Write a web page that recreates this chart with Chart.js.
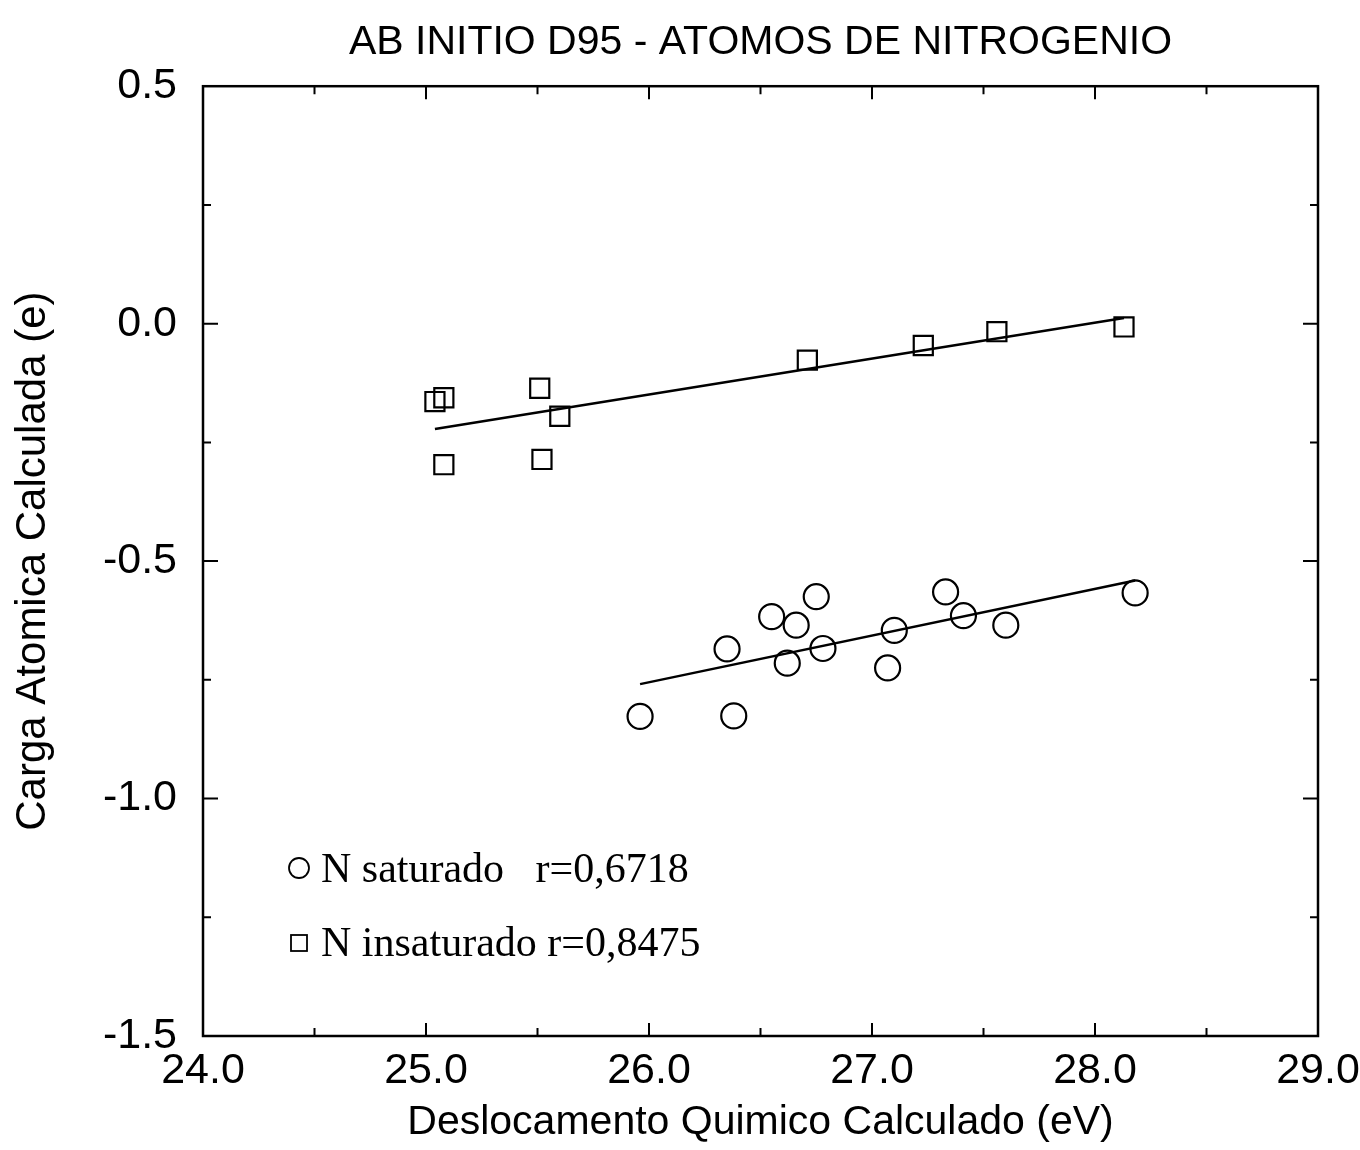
<!DOCTYPE html>
<html>
<head>
<meta charset="utf-8">
<script src="https://cdn.jsdelivr.net/npm/chart.js@4.4.1/dist/chart.umd.min.js"></script>
<style>
  html, body { margin: 0; padding: 0; background: #fff; }
  #wrap { width: 1360px; height: 1150px; }
</style>
</head>
<body>
<div id="wrap"><canvas id="chart"></canvas></div>
<script>
const chartTitle = 'AB INITIO D95 - ATOMOS DE NITROGENIO';
const xTitle = 'Deslocamento Quimico Calculado (eV)';
const yTitle = 'Carga Atomica Calculada (e)';

// N saturado (circles)
const satX = [25.96, 26.38, 26.35, 26.55, 26.62, 26.66, 26.75, 26.78, 27.07, 27.10, 27.33, 27.41, 27.60, 28.18];
const satY = [-0.827, -0.826, -0.685, -0.617, -0.715, -0.635, -0.575, -0.684, -0.725, -0.646, -0.565, -0.615, -0.635, -0.567];
const satFitX = [25.96, 28.18];
const satFitY = [-0.759, -0.541];

// N insaturado (squares)
const insX = [25.04, 25.08, 25.08, 25.51, 25.52, 25.60, 26.71, 27.23, 27.56, 28.13];
const insY = [-0.164, -0.156, -0.297, -0.136, -0.286, -0.195, -0.077, -0.046, -0.017, -0.007];
const insFitX = [25.04, 28.13];
const insFitY = [-0.222, 0.012];

const legendLabels = ['N saturado   r=0,6718', 'N insaturado r=0,8475'];

const black = '#000';
const sans = "'Liberation Sans', Arial, sans-serif";
const serif = "'Liberation Serif', 'Times New Roman', serif";

function pts(xs, ys) {
  return xs.map((x, i) => ({ x: x, y: ys[i] }));
}

const frameAndTicks = {
  id: 'frameAndTicks',
  afterDatasetsDraw(chart) {
    const { ctx, chartArea: { left, top, right, bottom }, scales: { x, y } } = chart;
    ctx.save();
    ctx.strokeStyle = black;
    ctx.lineWidth = 2.5;
    ctx.strokeRect(left, top, right - left, bottom - top);

    ctx.lineWidth = 2;
    ctx.beginPath();
    for (let v = 24.5; v < 29; v += 0.5) {
      const px = x.getPixelForValue(v);
      const len = Number.isInteger(v) ? 13 : 8;
      ctx.moveTo(px, bottom); ctx.lineTo(px, bottom - len);
      ctx.moveTo(px, top); ctx.lineTo(px, top + len);
    }
    for (let v = -1.25; v < 0.5; v += 0.25) {
      const py = y.getPixelForValue(v);
      const len = Math.abs(v * 2 - Math.round(v * 2)) < 1e-6 ? 15 : 8;
      ctx.moveTo(left, py); ctx.lineTo(left + len, py);
      ctx.moveTo(right, py); ctx.lineTo(right - len, py);
    }
    ctx.stroke();

    // legend inside plot
    const lx = 299;
    const rows = [871, 945];
    ctx.lineWidth = 1.8;
    ctx.beginPath();
    ctx.arc(lx, rows[0] - 3, 10, 0, Math.PI * 2);
    ctx.stroke();
    ctx.strokeRect(lx - 8, rows[1] - 10, 16, 16);
    ctx.fillStyle = black;
    ctx.font = '42px ' + serif;
    ctx.textBaseline = 'middle';
    ctx.textAlign = 'left';
    ctx.fillText(legendLabels[0], lx + 22, rows[0]);
    ctx.fillText(legendLabels[1], lx + 22, rows[1]);
    ctx.restore();
  }
};

new Chart(document.getElementById('chart'), {
  type: 'scatter',
  plugins: [frameAndTicks],
  data: {
    datasets: [
      {
        label: 'N saturado',
        data: pts(satX, satY),
        pointStyle: 'circle',
        pointRadius: 12.5,
        borderColor: black,
        backgroundColor: 'rgba(0,0,0,0)',
        borderWidth: 2.2,
      },
      {
        label: 'N insaturado',
        data: pts(insX, insY),
        pointStyle: 'rect',
        pointRadius: 13.5,
        borderColor: black,
        backgroundColor: 'rgba(0,0,0,0)',
        borderWidth: 2.2,
      },
      {
        type: 'line',
        label: 'fit saturado',
        data: pts(satFitX, satFitY),
        borderColor: black,
        borderWidth: 2.5,
        pointRadius: 0,
        fill: false,
      },
      {
        type: 'line',
        label: 'fit insaturado',
        data: pts(insFitX, insFitY),
        borderColor: black,
        borderWidth: 2.5,
        pointRadius: 0,
        fill: false,
      },
    ]
  },
  options: {
    responsive: true,
    maintainAspectRatio: false,
    animation: false,
    layout: {
      padding: { left: 8, right: 42, top: 18, bottom: 3 },
    },
    scales: {
      x: {
        type: 'linear',
        min: 24,
        max: 29,
        grid: { display: false },
        border: { display: false },
        ticks: {
          stepSize: 1,
          padding: 1,
          color: black,
          font: { family: sans, size: 43 },
          callback: (v) => v.toFixed(1),
        },
        title: {
          display: true,
          text: xTitle,
          color: black,
          font: { family: sans, size: 41 },
          padding: 0,
        },
        afterFit: (axis) => {
          axis.height = 111;
          axis.paddingLeft = 0;
          axis.paddingRight = 0;
        }
      },
      y: {
        type: 'linear',
        min: -1.5,
        max: 0.5,
        grid: { display: false },
        border: { display: false },
        ticks: {
          stepSize: 0.5,
          padding: 18,
          color: black,
          font: { family: sans, size: 43 },
          callback: (v) => v.toFixed(1),
        },
        title: {
          display: true,
          text: yTitle,
          color: black,
          font: { family: sans, size: 42 },
          padding: 0,
        },
        afterFit: (axis) => {
          axis.width = 195;
          axis.paddingTop = 0;
          axis.paddingBottom = 0;
        }
      },
    },
    plugins: {
      legend: { display: false },
      tooltip: { enabled: false },
      title: {
        display: true,
        text: chartTitle,
        color: black,
        fullSize: false,
        font: { family: sans, size: 41, weight: 'normal' },
        padding: { top: 0, bottom: 19 },
      },
    },
  },
});
</script>
</body>
</html>
